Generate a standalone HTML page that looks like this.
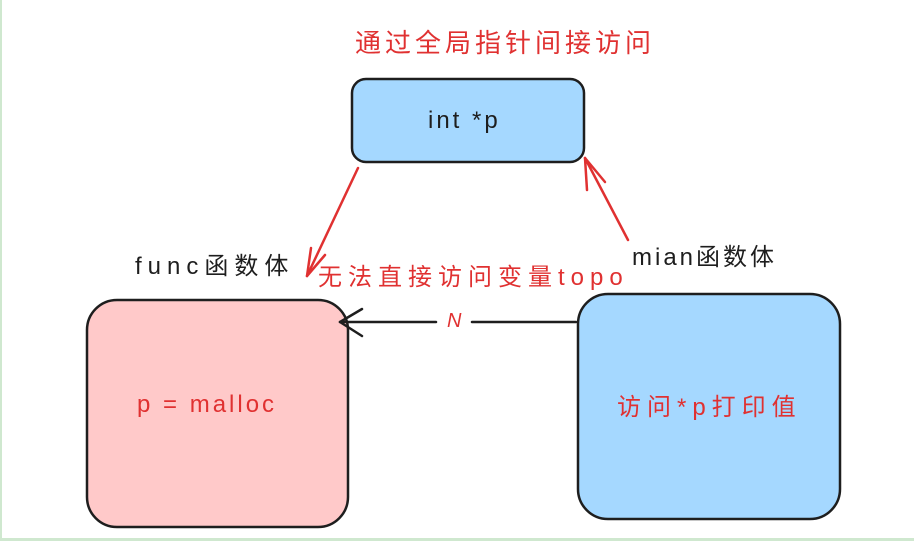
<!DOCTYPE html>
<html><head><meta charset="utf-8"><style>
body{margin:0;width:914px;height:541px;background:#fff;overflow:hidden;position:relative;font-family:"Liberation Sans","Noto Sans CJK SC",sans-serif}
.t{position:absolute;white-space:nowrap;line-height:1}
</style></head><body>
<div style="position:absolute;left:0;top:0;width:2px;height:541px;background:#cfe8cf"></div>
<div style="position:absolute;left:0;top:538px;width:914px;height:3px;background:#cfe8cf"></div>
<svg width="914" height="541" style="position:absolute;left:0;top:0">
<rect x="352" y="79" width="232" height="83" rx="14" fill="#a5d8ff" stroke="#1e1e1e" stroke-width="2.5"/>
<rect x="87" y="300" width="261" height="227" rx="30" fill="#ffc9c9" stroke="#1e1e1e" stroke-width="2.5"/>
<rect x="578" y="294" width="262" height="225" rx="30" fill="#a5d8ff" stroke="#1e1e1e" stroke-width="2.5"/>
<g stroke="#e03131" stroke-width="2.5" fill="none" stroke-linecap="round">
<path d="M358 168 L307 276"/><path d="M307 276 L311 248 M307 276 L325 255"/>
<path d="M628 240 L585 158"/><path d="M585 158 L587 190 M585 158 L605 182"/>
</g>
<g stroke="#1e1e1e" stroke-width="2.5" fill="none" stroke-linecap="round">
<path d="M576 322 L472 322 M436 322 L340 322"/><path d="M340 322 L362 309 M340 322 L362 336"/>
</g>
</svg>
<div class="t" style="left:355px;top:30px;font-size:26px;letter-spacing:4px;color:#e03131">通过全局指针间接访问</div>
<div class="t" style="left:428px;top:109px;font-size:24px;letter-spacing:3px;color:#1e1e1e">int *p</div>
<div class="t" style="left:135px;top:255px;font-size:24px;letter-spacing:6px;color:#1e1e1e">func函数体</div>
<div class="t" style="left:632px;top:246px;font-size:24px;letter-spacing:3px;color:#1e1e1e">mian函数体</div>
<div class="t" style="left:318px;top:266px;font-size:24px;letter-spacing:6px;color:#e03131">无法直接访问变量topo</div>
<div class="t" style="left:447px;top:311px;font-size:20px;color:#e03131;font-style:italic">N</div>
<div class="t" style="left:137px;top:393px;font-size:24px;letter-spacing:3px;color:#e03131">p = malloc</div>
<div class="t" style="left:617px;top:396px;font-size:24px;letter-spacing:6px;color:#e03131">访问*p打印值</div>
</body></html>
